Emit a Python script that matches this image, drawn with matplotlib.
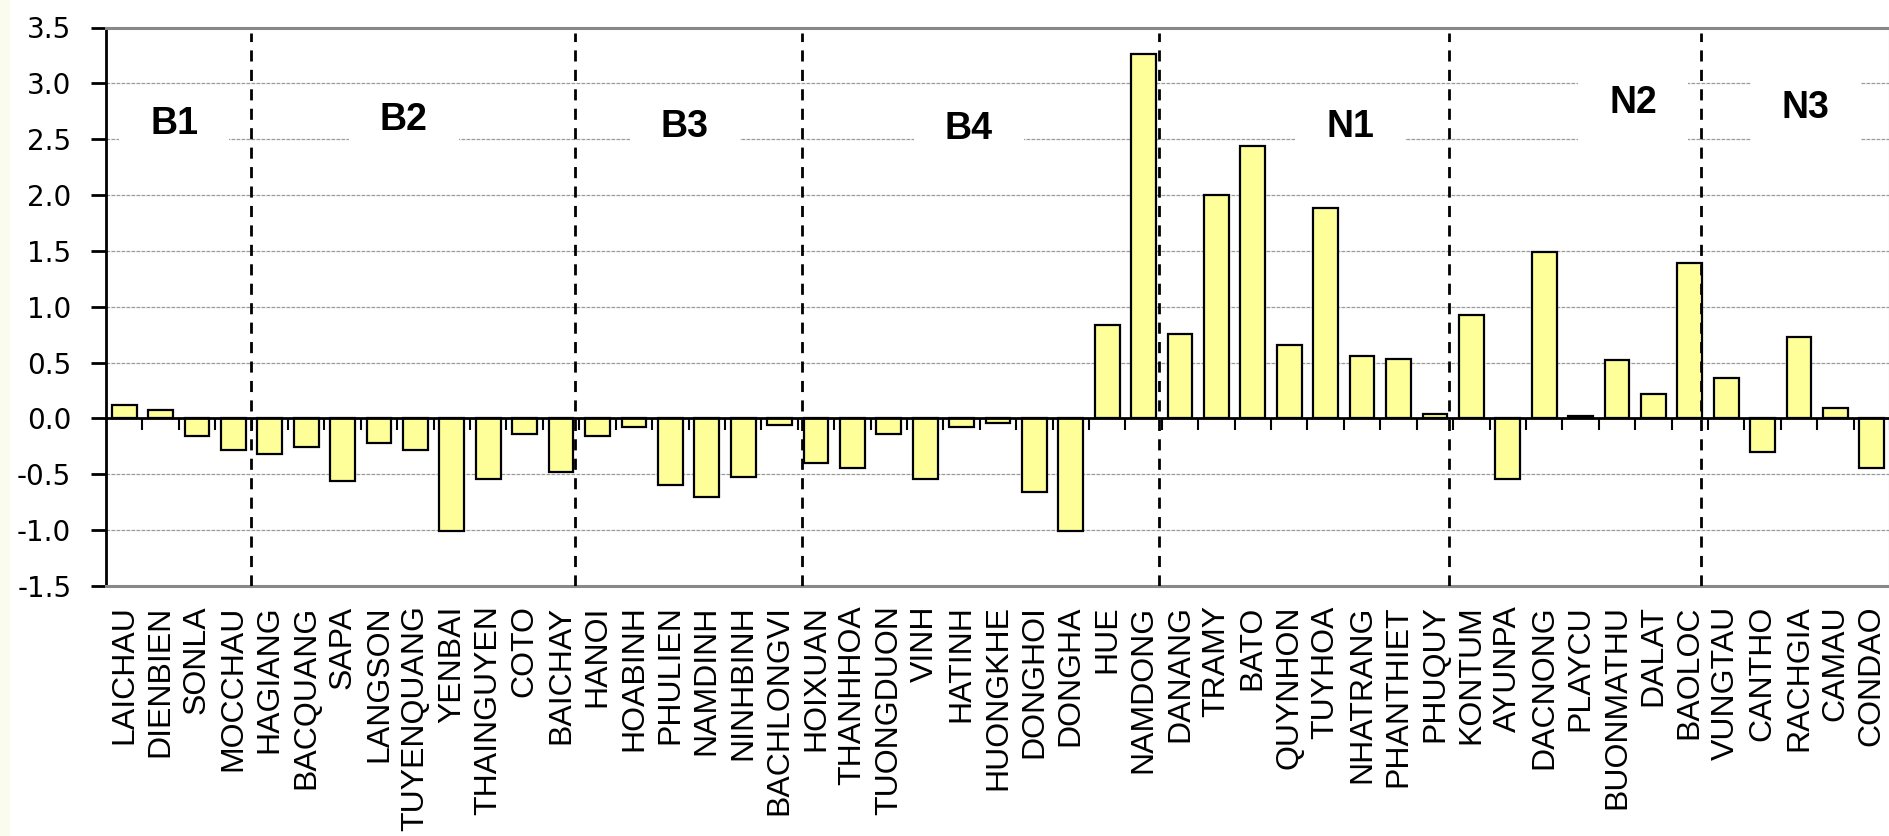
import matplotlib
matplotlib.use('Agg')
import matplotlib.pyplot as plt
from matplotlib.patches import Rectangle
import numpy as np

# ---------------- data ----------------
stations = ['LAICHAU', 'DIENBIEN', 'SONLA', 'MOCCHAU',
            'HAGIANG', 'BACQUANG', 'SAPA', 'LANGSON', 'TUYENQUANG', 'YENBAI',
            'THAINGUYEN', 'COTO', 'BAICHAY',
            'HANOI', 'HOABINH', 'PHULIEN', 'NAMDINH', 'NINHBINH', 'BACHLONGVI',
            'HOIXUAN', 'THANHHOA', 'TUONGDUON', 'VINH', 'HATINH', 'HUONGKHE',
            'DONGHOI', 'DONGHA', 'HUE', 'NAMDONG',
            'DANANG', 'TRAMY', 'BATO', 'QUYNHON', 'TUYHOA', 'NHATRANG',
            'PHANTHIET', 'PHUQUY',
            'KONTUM', 'AYUNPA', 'DACNONG', 'PLAYCU', 'BUONMATHU', 'DALAT', 'BAOLOC',
            'VUNGTAU', 'CANTHO', 'RACHGIA', 'CAMAU', 'CONDAO']

values = [0.12, 0.08, -0.16, -0.28,
          -0.32, -0.26, -0.56, -0.22, -0.28, -1.01, -0.54, -0.14, -0.48,
          -0.16, -0.08, -0.60, -0.70, -0.52, -0.06,
          -0.40, -0.44, -0.14, -0.54, -0.08, -0.04, -0.66, -1.01, 0.835, 3.26,
          0.76, 2.00, 2.44, 0.655, 1.885, 0.555, 0.535, 0.04,
          0.93, -0.54, 1.49, 0.02, 0.52, 0.22, 1.39,
          0.36, -0.30, 0.73, 0.095, -0.44]

group_names = ['B1', 'B2', 'B3', 'B4', 'N1', 'N2', 'N3']
group_sizes = [4, 9, 6, 10, 8, 7, 5]

# ---------------- layout (annotation positions) ----------------
group_label_x = [1.37, 7.68, 15.40, 23.20, 33.67, 41.44, 46.19]
group_label_y = [2.64, 2.67, 2.61, 2.59, 2.61, 2.82, 2.78]
box_y_ranges = [(2.40, 2.85), (2.40, 2.85), (2.40, 2.85), (2.40, 2.85),
                (2.40, 2.85), (2.40, 3.12), (2.40, 3.12)]
box_half_width = 1.51
separator_x = [3.47, 12.37, 18.62, 28.42, 36.40, 43.31]

W, H = 1890, 836
fig = plt.figure(figsize=(W / 100, H / 100), dpi=100)
fig.patch.set_facecolor('white')
fig.patches.append(Rectangle((0, 0), 10 / W, 1, transform=fig.transFigure,
                             facecolor='#FAFCEE', edgecolor='none', zorder=-5))

left_px, right_px, top_px, bottom_px = 106, 1890, 27.5, 586
ax = fig.add_axes([left_px / W, 1 - bottom_px / H,
                   (right_px - left_px) / W, (bottom_px - top_px) / H])

n = len(stations)
x = np.arange(n)
ax.bar(x, values, width=0.68, color='#FFFF99', edgecolor='black',
       linewidth=1.6, zorder=3)

ax.set_xlim(-0.5, n - 0.5)
ax.set_ylim(-1.5, 3.5)
yt = np.arange(-1.5, 3.51, 0.5)
ax.set_yticks(yt)
ax.set_yticklabels([f'{v:.1f}' for v in yt], family='DejaVu Sans', fontsize=20)

ax.set_xticks(x)
ax.set_xticklabels(stations, rotation=90, family='Liberation Sans',
                   fontsize=23, va='top', ha='center')
ax.tick_params(axis='x', length=0, pad=14)
ax.tick_params(axis='y', direction='out', length=11, width=2,
               color='black', pad=14)

# gridlines
ax.yaxis.grid(True, color='#9a9a9a', linewidth=0.9, linestyle=(0, (3, 1)))
ax.set_axisbelow(True)

# spines
for s in ['top', 'right', 'bottom']:
    ax.spines[s].set_color('#888888')
    ax.spines[s].set_linewidth(2.2)
ax.spines['left'].set_color('black')
ax.spines['left'].set_linewidth(2)

# zero line with category ticks
ax.axhline(0, color='black', linewidth=2, zorder=4)
ax.vlines(np.arange(-0.5, n, 1.0), 0, -0.1, color='black',
          linewidth=1.5, zorder=4)

# separators
for sx in separator_x:
    ax.plot([sx, sx], [-1.5, 3.45], color='black', linewidth=2,
            linestyle=(0, (4, 3)), zorder=4)

# group labels with white boxes hiding gridlines
for name, gx, gy, (y0, y1) in zip(group_names, group_label_x, group_label_y,
                                   box_y_ranges):
    ax.add_patch(Rectangle((gx - box_half_width, y0), 2 * box_half_width,
                           y1 - y0, facecolor='white', edgecolor='none',
                           zorder=1))
    ax.text(gx, gy, name, ha='center', va='center', fontsize=27,
            fontweight='bold', family='Liberation Sans', zorder=5)

fig.savefig('out.png', dpi=100, facecolor='white')
